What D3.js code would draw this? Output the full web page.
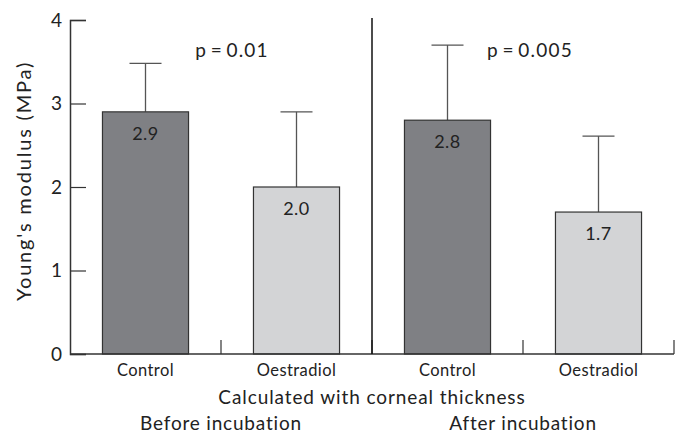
<!DOCTYPE html>
<html>
<head>
<meta charset="utf-8">
<script src="https://cdn.jsdelivr.net/npm/d3@7"></script>
<style>
  body { margin: 0; background: #fff; }
  svg text { font-family: Lato, "DejaVu Sans", sans-serif; fill: #222; }
</style>
</head>
<body>
<svg></svg>
<script>
let categories = ['Control', 'Oestradiol', 'Control', 'Oestradiol']
let means = [2.9, 2.0, 2.8, 1.7]
let errTops = [3.48, 2.9, 3.7, 2.61]
let meanLabels = ['2.9', '2.0', '2.8', '1.7']
let groups = ['Before incubation', 'After incubation']
let pValues = ['p\u2009=\u20090.01', 'p\u2009=\u20090.005']
let yTicks = [0, 1, 2, 3, 4]

let width = 682
let height = 433
let plotLeft = 70
let plotRight = 674
let plotTop = 20
let plotBottom = 354

let fills = ['#7f8084', '#d3d4d6', '#7f8084', '#d3d4d6']

let svg = d3.select('svg')
  .attr('width', width)
  .attr('height', height)

let yScale = d3.scaleLinear()
  .domain([0, 4])
  .range([plotBottom, plotTop])

let xScale = d3.scaleBand()
  .domain(d3.range(categories.length))
  .range([plotLeft, plotRight])
  .paddingInner(0.43)
  .paddingOuter(0.215)

let step = xScale.step()
let center = (i) => xScale(i) + xScale.bandwidth() / 2

// error bars (drawn first so the bar covers the lower part)
let err = svg.append('g')
err.selectAll('line.stem')
  .data(means)
  .enter()
  .append('line')
  .attr('x1', (d, i) => center(i))
  .attr('x2', (d, i) => center(i))
  .attr('y1', (d) => yScale(d))
  .attr('y2', (d, i) => yScale(errTops[i]))
  .attr('stroke', '#555')
  .attr('stroke-width', 1.3)
err.selectAll('line.cap')
  .data(errTops)
  .enter()
  .append('line')
  .attr('x1', (d, i) => center(i) - 16)
  .attr('x2', (d, i) => center(i) + 16)
  .attr('y1', (d) => yScale(d))
  .attr('y2', (d) => yScale(d))
  .attr('stroke', '#555')
  .attr('stroke-width', 1.3)

// bars
svg.selectAll('rect.bar')
  .data(means)
  .enter()
  .append('rect')
  .attr('class', 'bar')
  .attr('x', (d, i) => xScale(i))
  .attr('width', xScale.bandwidth())
  .attr('y', (d) => yScale(d))
  .attr('height', (d) => plotBottom - yScale(d))
  .attr('fill', (d, i) => fills[i])
  .attr('stroke', '#333')
  .attr('stroke-width', 1.2)

// values inside bars
svg.selectAll('text.val')
  .data(meanLabels)
  .enter()
  .append('text')
  .attr('x', (d, i) => center(i))
  .attr('y', (d, i) => yScale(means[i]) + 28)
  .attr('text-anchor', 'middle')
  .style('font-size', '18px')
  .style('letter-spacing', '0.5px')
  .text((d) => d)

// y axis
let yAxis = d3.axisLeft(yScale)
  .tickValues(yTicks)
  .tickSize(-16)
  .tickPadding(8)
  .tickFormat(d3.format('d'))
let yg = svg.append('g')
  .attr('transform', 'translate(' + plotLeft + ',0)')
  .call(yAxis)
yg.select('.domain').attr('stroke', '#333').attr('stroke-width', 1.5)
yg.selectAll('.tick line').attr('stroke', '#333').attr('stroke-width', 1.2)
yg.selectAll('.tick text').style('font-size', '19px').attr('fill', '#222')

// x axis line
svg.append('line')
  .attr('x1', plotLeft).attr('x2', plotRight)
  .attr('y1', plotBottom).attr('y2', plotBottom)
  .attr('stroke', '#333').attr('stroke-width', 1.5)

// small separator ticks between categories
svg.selectAll('line.sep')
  .data([1, 2, 3, 4])
  .enter()
  .append('line')
  .attr('x1', (d) => plotLeft + d * step)
  .attr('x2', (d) => plotLeft + d * step)
  .attr('y1', plotBottom)
  .attr('y2', plotBottom - 14)
  .attr('stroke', '#333')
  .attr('stroke-width', 1.2)

// divider between before/after
svg.append('line')
  .attr('x1', plotLeft + 2 * step).attr('x2', plotLeft + 2 * step)
  .attr('y1', 18).attr('y2', plotBottom)
  .attr('stroke', '#111').attr('stroke-width', 1.5)

// category labels
svg.selectAll('text.cat')
  .data(categories)
  .enter()
  .append('text')
  .attr('x', (d, i) => center(i))
  .attr('y', 376)
  .attr('text-anchor', 'middle')
  .style('font-size', '16.5px')
  .style('letter-spacing', '0.4px')
  .text((d) => d)

svg.append('text')
  .attr('x', plotLeft + 2 * step)
  .attr('y', 404)
  .attr('text-anchor', 'middle')
  .style('font-size', '19px')
  .style('letter-spacing', '0.9px')
  .text('Calculated with corneal thickness')

svg.selectAll('text.grp')
  .data(groups)
  .enter()
  .append('text')
  .attr('x', (d, i) => plotLeft + (i * 2 + 1) * step)
  .attr('y', 430)
  .attr('text-anchor', 'middle')
  .style('font-size', '19px')
  .style('letter-spacing', '0.8px')
  .text((d) => d)

// p-values
let pPos = [[232, 57], [530, 57]]
svg.selectAll('text.p')
  .data(pValues)
  .enter()
  .append('text')
  .attr('x', (d, i) => pPos[i][0])
  .attr('y', (d, i) => pPos[i][1])
  .attr('text-anchor', 'middle')
  .style('font-size', '19px')
  .style('letter-spacing', '1.2px')
  .text((d) => d)

// y label
svg.append('text')
  .attr('transform', 'translate(31,' + 181 + ') rotate(-90)')
  .attr('text-anchor', 'middle')
  .style('font-size', '20px')
  .style('letter-spacing', '1.8px')
  .text("Young's modulus (MPa)")
</script>
</body>
</html>
